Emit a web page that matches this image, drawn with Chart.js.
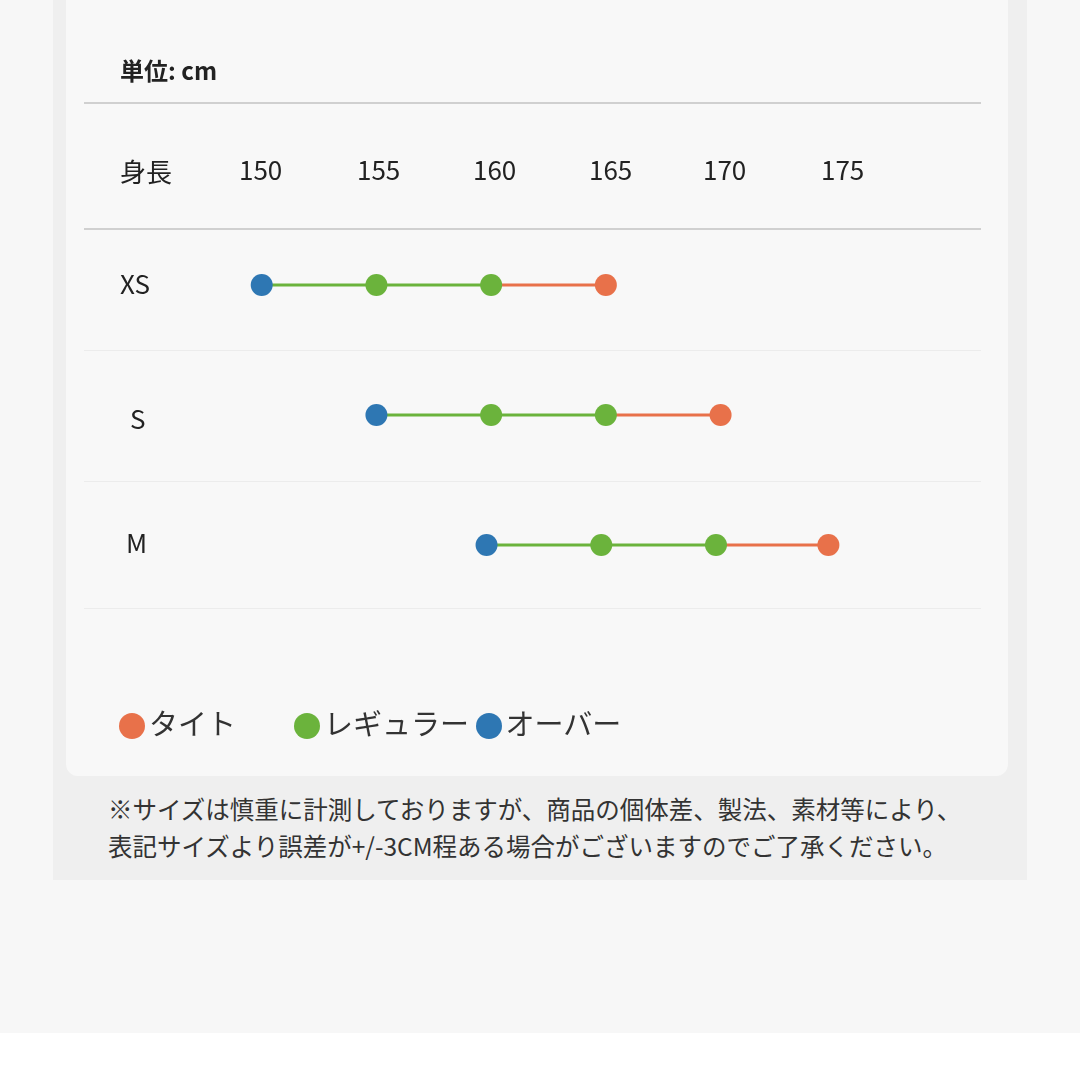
<!DOCTYPE html>
<html><head><meta charset="utf-8">
<script src="https://cdn.jsdelivr.net/npm/chart.js@4"></script>
<style>
body{margin:0;width:1080px;height:1080px;background:#f7f7f7;position:relative;overflow:hidden;font-family:"Noto Sans CJK JP","Noto Sans",sans-serif;color:#222}
#band{position:absolute;left:53px;top:0;width:974px;height:880px;background:#efefef}
#card{position:absolute;left:66px;top:0;width:942px;height:776px;background:#f8f8f8;border-radius:0 0 12px 12px}
#bottom{position:absolute;left:0;top:1033px;width:1080px;height:47px;background:#fff}
.t{position:absolute;white-space:nowrap}
.ln{position:absolute;left:84px;width:897px;height:1px;background:#ececec}
canvas{position:absolute;left:0;top:0}
.dot{display:inline-block;width:26px;height:26px;border-radius:50%;vertical-align:-4px;margin-right:4px}
</style></head><body>
<div id="band"></div>
<div id="card"><canvas id="c" width="942" height="776"></canvas></div>
<div id="bottom"></div>
<div class="ln" style="top:102px;height:2px;background:#d0d0d0"></div>
<div class="ln" style="top:228px;height:2px;background:#d0d0d0"></div>
<div class="ln" style="top:350px"></div>
<div class="ln" style="top:481px"></div>
<div class="ln" style="top:608px"></div>
<div class="t" style="left:120px;top:52px;font-size:24px;font-weight:bold">単位: cm</div>
<div class="t" style="left:120px;top:152px;font-size:26px">身長</div>
<div id="ticks"></div>
<div id="rows"></div>
<div class="t" style="left:119px;top:701px;font-size:29px;color:#333">
<span class="dot" style="background:#e8714a"></span>タイト　　<span class="dot" style="background:#6bb33c"></span>レギュラー <span class="dot" style="background:#2e77b3"></span>オーバー</div>
<div class="t" style="left:108px;top:790px;font-size:24.5px;line-height:37px;color:#333">※サイズは慎重に計測しておりますが、商品の個体差、製法、素材等により、<br>表記サイズより誤差が+/-3CM程ある場合がございますのでご了承ください。</div>
<script>
var sizes = ["XS", "S", "M"];
var overValues = [150, 155, 159.8];
var regularValues = [[155, 160], [160, 165], [164.8, 169.8]];
var tightValues = [165, 170, 174.7];
var tickLabels = [150, 155, 160, 165, 170, 175];
var tickPx = [263, 381, 497, 613, 727, 845];
var rowPx = [282, 417, 541];
var rowLeft = [120, 130, 126];

var orange = "#e8714a", green = "#6bb33c", blue = "#2e77b3";

var html = "";
tickLabels.forEach(function (v, i) {
    html += '<div class="t" style="left:' + (tickPx[i] - 24) + 'px;top:150px;font-size:26px">' + v + '</div>';
});
document.getElementById("ticks").innerHTML = html;
html = "";
sizes.forEach(function (s, i) {
    html += '<div class="t" style="left:' + rowLeft[i] + 'px;top:' + (rowPx[i] - 18) + 'px;font-size:26px">' + s + '</div>';
});
document.getElementById("rows").innerHTML = html;

var datasets = sizes.map(function (s, i) {
    var xs = [overValues[i]].concat(regularValues[i]).concat([tightValues[i]]);
    return {
        data: xs.map(function (x) { return {x: x, y: s}; }),
        borderWidth: 3,
        pointRadius: 11,
        pointBorderWidth: 0,
        pointBackgroundColor: [blue, green, green, orange],
        segment: {
            borderColor: function (ctx) { return ctx.p1DataIndex === 3 ? orange : green; }
        },
        clip: false
    };
});

new Chart(document.getElementById("c").getContext("2d"), {
    type: "line",
    data: {datasets: datasets},
    options: {
        responsive: false,
        animation: false,
        layout: {padding: {left: 81, right: 58, top: 285, bottom: 231}},
        plugins: {legend: {display: false}, tooltip: {enabled: false}},
        scales: {
            x: {type: "linear", min: 145, max: 180, display: false},
            y: {type: "category", labels: sizes, offset: false, display: false}
        }
    }
});
</script>
</body></html>
